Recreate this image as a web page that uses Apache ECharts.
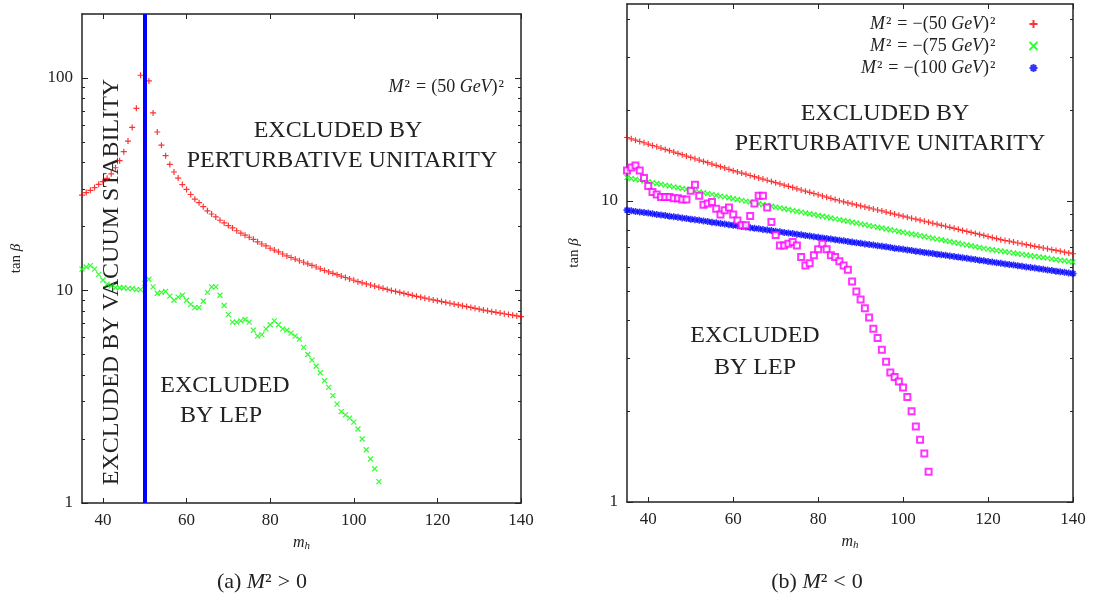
<!DOCTYPE html>
<html>
<head>
<meta charset="utf-8">
<script src="https://cdn.jsdelivr.net/npm/echarts@6/dist/echarts.min.js"></script>
<style>html,body{margin:0;padding:0;background:#fff}#c{width:1105px;height:600px}</style>
</head>
<body>
<div id="c"></div>
<script>
// ---------- data ----------
const mh = [35,36,37,38,39,40,41,42,43,44,45,46,47,48,49,50,51,52,53,54,55,56,57,58,59,60,61,62,63,64,
  65,66,67,68,69,70,71,72,73,74,75,76,77,78,79,80,81,82,83,84,85,86,87,88,89,90,91,92,93,94,
  95,96,97,98,99,100,101,102,103,104,105,106,107,108,109,110,111,112,113,114,115,116,117,118,119,120,
  121,122,123,124,125,126,127,128,129,130,131,132,133,134,135,136,137,138,139,140];

// (a) perturbative unitarity bound, M^2 = (50 GeV)^2
const unitarityPos50 = [28.1,28.9,29.6,30.5,31.6,32.5,33.7,35.4,37.8,40.8,
  45.0,50.5,58.5,72.0,103,null,96.8,68.5,55.7,48.3,
  43.1,39.2,36.1,33.8,31.5,29.9,28.3,26.9,25.9,24.8,
  23.7,22.9,22.2,21.4,20.8,20.2,19.7,19.1,18.6,18.2,
  17.8,17.4,16.95,16.55,16.2,15.8,15.5,15.2,14.85,14.55,
  14.3,14.05,13.8,13.58,13.35,13.12,12.9,12.65,12.42,12.23,
  12.05,11.87,11.69,11.51,11.34,11.17,11.0,10.87,10.74,10.61,
  10.49,10.36,10.24,10.12,10.0,9.90,9.79,9.69,9.59,9.49,
  9.39,9.30,9.20,9.12,9.03,8.95,8.87,8.79,8.71,8.63,
  8.55,8.47,8.40,8.32,8.24,8.17,8.09,8.02,7.95,7.89,
  7.83,7.77,7.71,7.65,7.59,7.53];

// LEP exclusion boundary (m_h = 35 ... 106)
const lepBound = [12.6,12.9,13.1,12.6,11.9,11.2,10.7,10.5,10.3,10.3,
  10.3,10.2,10.2,10.1,10.1,10.8,11.3,10.4,9.7,9.8,
  9.9,9.4,9.0,9.3,9.5,9.0,8.6,8.3,8.3,8.9,
  9.8,10.4,10.4,9.5,8.5,7.7,7.1,7.1,7.2,7.3,
  7.1,6.5,6.1,6.2,6.6,6.9,7.2,6.9,6.6,6.5,
  6.3,6.1,5.9,5.4,5.0,4.7,4.4,4.1,3.76,3.5,
  3.2,2.92,2.69,2.60,2.51,2.40,2.23,2.00,1.78,1.61,
  1.45,1.26];

// vacuum stability bound position in (a)
const vacuumBound = 50;

// (b) perturbative unitarity bounds, M^2 < 0
const unitarityNeg50 = [16.22,16.06,15.89,15.73,15.58,15.42,15.26,15.11,14.96,14.81,
  14.66,14.51,14.36,14.22,14.07,13.93,13.79,13.65,13.51,13.38,
  13.24,13.11,12.98,12.85,12.72,12.59,12.47,12.36,12.25,12.13,
  12.02,11.91,11.80,11.70,11.59,11.48,11.38,11.27,11.17,11.07,
  10.96,10.86,10.76,10.67,10.57,10.47,10.38,10.28,10.19,10.09,
  10.00,9.92,9.84,9.77,9.69,9.62,9.54,9.47,9.39,9.32,
  9.25,9.17,9.10,9.03,8.96,8.89,8.82,8.75,8.69,8.62,
  8.55,8.49,8.42,8.36,8.29,8.23,8.16,8.10,8.04,7.97,
  7.91,7.85,7.79,7.73,7.67,7.61,7.55,7.49,7.43,7.38,
  7.34,7.29,7.24,7.20,7.15,7.11,7.06,7.02,6.97,6.93,
  6.88,6.84,6.80,6.75,6.71,6.67];
const unitarityNeg75 = [11.94,11.86,11.79,11.71,11.64,11.56,11.49,11.41,11.34,11.27,
  11.20,11.12,11.05,10.98,10.91,10.84,10.77,10.70,10.63,10.56,
  10.50,10.43,10.36,10.30,10.23,10.16,10.10,10.03,9.97,9.91,
  9.84,9.78,9.72,9.66,9.59,9.53,9.47,9.41,9.35,9.29,
  9.23,9.17,9.11,9.06,9.00,8.94,8.88,8.83,8.77,8.71,
  8.66,8.60,8.55,8.49,8.44,8.38,8.33,8.27,8.22,8.17,
  8.12,8.06,8.01,7.96,7.91,7.86,7.81,7.76,7.71,7.66,
  7.61,7.56,7.51,7.46,7.42,7.37,7.32,7.27,7.23,7.18,
  7.13,7.09,7.04,7.00,6.95,6.91,6.88,6.84,6.81,6.77,
  6.74,6.71,6.67,6.64,6.61,6.57,6.54,6.51,6.48,6.45,
  6.41,6.38,6.35,6.32,6.29,6.26];
const unitarityNeg100 = [9.31,9.27,9.22,9.18,9.14,9.10,9.05,9.01,8.97,8.93,
  8.89,8.85,8.81,8.77,8.73,8.69,8.65,8.61,8.57,8.53,
  8.49,8.45,8.41,8.37,8.33,8.30,8.26,8.22,8.18,8.14,
  8.11,8.07,8.03,8.00,7.96,7.92,7.89,7.85,7.81,7.78,
  7.74,7.71,7.67,7.64,7.60,7.57,7.53,7.50,7.46,7.43,
  7.39,7.36,7.33,7.29,7.26,7.23,7.19,7.16,7.13,7.09,
  7.06,7.03,7.00,6.96,6.93,6.90,6.87,6.84,6.80,6.77,
  6.74,6.71,6.68,6.65,6.62,6.59,6.56,6.53,6.50,6.47,
  6.44,6.41,6.38,6.35,6.32,6.29,6.26,6.23,6.20,6.17,
  6.14,6.12,6.09,6.06,6.03,6.00,5.98,5.95,5.92,5.89,
  5.87,5.84,5.81,5.79,5.76,5.73];

// ticks
const xTicks = [40, 60, 80, 100, 120, 140];
const yMajorA = [1, 10, 100];
const yMinorA = [2,3,4,5,6,7,8,9,20,30,40,50,60,70,80,90];
const yMajorB = [1, 10];
const yMinorB = [2,3,4,5,6,7,8,9,20,30,40];
const legendNames = ['M2 = -(50 GeV)^2', 'M2 = -(75 GeV)^2', 'M2 = -(100 GeV)^2'];
const legendMass = ['50', '75', '100'];

// ---------- helpers ----------
const pair = (vals) => vals.map((v, i) => [mh[i], v]);
const FONT = "'Liberation Serif', 'DejaVu Serif', serif";
const INK = '#222';
const PLUS = 'path://M0,5L10,5M5,0L5,10';
const CROSS = 'path://M0,0L10,10M10,0L0,10';
const STAR = 'path://M0,5L10,5M5,0L5,10M1.5,1.5L8.5,8.5M8.5,1.5L1.5,8.5';

function xAx(grid, pos, labels, name) {
  return {
    type: 'value', gridIndex: grid, position: pos, min: 35, max: 140,
    axisLine: { show: true, onZero: false, lineStyle: { color: INK, width: 1.5 } },
    axisTick: { show: true, inside: true, length: 5, customValues: xTicks, lineStyle: { color: INK, width: 1 } },
    axisLabel: { show: labels, customValues: xTicks, margin: 9, fontFamily: FONT, fontSize: 17, color: INK },
    splitLine: { show: false },
    name: name ? '{m|m}{h|h}' : '',
    nameLocation: 'middle', nameGap: 30,
    nameTextStyle: { rich: {
      m: { fontFamily: FONT, fontStyle: 'italic', fontSize: 16, color: INK },
      h: { fontFamily: FONT, fontStyle: 'italic', fontSize: 11, color: INK, padding: [8, 0, 0, 0] }
    } }
  };
}
function yAx(grid, pos, max, ticks, len, line, labels, name, gap) {
  return {
    type: 'log', logBase: 10, gridIndex: grid, position: pos, min: 1, max: max,
    axisLine: { show: line, onZero: false, lineStyle: { color: INK, width: 1.5 } },
    axisTick: { show: true, inside: true, length: len, customValues: ticks, lineStyle: { color: INK, width: 1 } },
    axisLabel: { show: labels, customValues: ticks, margin: 9, fontFamily: FONT, fontSize: 17, color: INK },
    splitLine: { show: false }, minorTick: { show: false },
    name: name ? '{n|tan }{b|β}' : '',
    nameLocation: 'middle', nameRotate: 90, nameGap: gap || 0,
    nameTextStyle: { rich: {
      n: { fontFamily: FONT, fontSize: 15, color: INK },
      b: { fontFamily: FONT, fontStyle: 'italic', fontSize: 15, color: INK }
    } }
  };
}
const richLab = {
  n: { fontFamily: FONT, fontSize: 18, color: INK },
  i: { fontFamily: FONT, fontSize: 18, fontStyle: 'italic', color: INK },
  s: { fontFamily: FONT, fontSize: 18, color: INK, padding: [0, 1, 0, 1] },
  q: { fontFamily: FONT, fontSize: 18, color: INK, padding: [0, 5, 0, 5] }
};
const richCap = {
  n: { fontFamily: FONT, fontSize: 22, color: INK },
  i: { fontFamily: FONT, fontSize: 22, fontStyle: 'italic', color: INK },
  q: { fontFamily: FONT, fontSize: 22, color: INK, padding: [0, 6, 0, 6] }
};

const option = {
  animation: false,
  backgroundColor: '#fff',
  grid: [
    { left: 82, top: 14, width: 439, height: 489 },
    { left: 627, top: 4, width: 446, height: 498 }
  ],
  xAxis: [
    xAx(0, 'bottom', true, true), xAx(0, 'top', false, false),
    xAx(1, 'bottom', true, true), xAx(1, 'top', false, false)
  ],
  yAxis: [
    yAx(0, 'left', 200, yMajorA, 6, true, true, true, 58),
    yAx(0, 'left', 200, yMinorA, 3, false, false, false),
    yAx(0, 'right', 200, yMajorA, 6, true, false, false),
    yAx(0, 'right', 200, yMinorA, 3, false, false, false),
    yAx(1, 'left', 45, yMajorB, 6, true, true, true, 45),
    yAx(1, 'left', 45, yMinorB, 3, false, false, false),
    yAx(1, 'right', 45, yMajorB, 6, true, false, false),
    yAx(1, 'right', 45, yMinorB, 3, false, false, false)
  ],
  legend: {
    orient: 'vertical', right: 60, top: 10, align: 'right',
    itemWidth: 8, itemHeight: 8, itemGap: 4,
    data: legendNames,
    formatter: function (name) {
      const k = legendNames.indexOf(name);
      return '{i|M}{s|²}{q|=}{n|−(' + legendMass[k] + ' }{i|GeV}{n|)}{s|²}{sp| }';
    },
    textStyle: { fontFamily: FONT, fontSize: 18, color: INK,
      rich: Object.assign({ sp: { width: 28 } }, richLab) }
  },
  series: [
    { type: 'scatter', name: 'unitarity (a)', xAxisIndex: 0, yAxisIndex: 0,
      symbol: PLUS, symbolSize: 6, data: pair(unitarityPos50),
      itemStyle: { color: 'none', borderColor: '#ff0000', borderWidth: 1.2 } },
    { type: 'scatter', name: 'LEP (a)', xAxisIndex: 0, yAxisIndex: 0,
      symbol: CROSS, symbolSize: 5, data: pair(lepBound),
      itemStyle: { color: 'none', borderColor: '#00ff00', borderWidth: 1.2 } },
    { type: 'scatter', name: 'vacuum', xAxisIndex: 0, yAxisIndex: 0, data: [],
      markLine: { silent: true, symbol: 'none', label: { show: false },
        lineStyle: { color: '#0000ff', width: 4, type: 'solid' },
        data: [{ xAxis: vacuumBound }] } },
    { type: 'scatter', name: legendNames[0], xAxisIndex: 2, yAxisIndex: 4,
      symbol: PLUS, symbolSize: 6, data: pair(unitarityNeg50),
      itemStyle: { color: 'none', borderColor: '#ff0000', borderWidth: 1.2 } },
    { type: 'scatter', name: legendNames[1], xAxisIndex: 2, yAxisIndex: 4,
      symbol: CROSS, symbolSize: 5, data: pair(unitarityNeg75),
      itemStyle: { color: 'none', borderColor: '#00ff00', borderWidth: 1.3 } },
    { type: 'scatter', name: legendNames[2], xAxisIndex: 2, yAxisIndex: 4,
      symbol: STAR, symbolSize: 7, data: pair(unitarityNeg100),
      itemStyle: { color: 'none', borderColor: '#0000ff', borderWidth: 1.6 } },
    { type: 'scatter', name: 'LEP (b)', xAxisIndex: 2, yAxisIndex: 4,
      symbol: 'emptyRect', symbolSize: 6, data: pair(lepBound),
      itemStyle: { color: '#ff00ff', borderColor: '#ff00ff', borderWidth: 1.2 } }
  ],
  graphic: [
    { type: 'text', x: 112, y: 282, rotation: Math.PI / 2,
      style: { text: 'EXCLUDED BY VACUUM STABILITY', font: '24px ' + FONT, fill: INK, align: 'center', verticalAlign: 'middle' } },
    { type: 'text', x: 338, y: 131,
      style: { text: 'EXCLUDED BY', font: '24px ' + FONT, fill: INK, align: 'center', verticalAlign: 'middle' } },
    { type: 'text', x: 342, y: 161,
      style: { text: 'PERTURBATIVE UNITARITY', font: '24px ' + FONT, fill: INK, align: 'center', verticalAlign: 'middle' } },
    { type: 'text', x: 505, y: 87,
      style: { text: '{i|M}{s|²}{q|=}{n|(50 }{i|GeV}{n|)}{s|²}', rich: richLab, fill: INK, align: 'right', verticalAlign: 'middle' } },
    { type: 'text', x: 225, y: 386,
      style: { text: 'EXCLUDED', font: '24px ' + FONT, fill: INK, align: 'center', verticalAlign: 'middle' } },
    { type: 'text', x: 221, y: 416,
      style: { text: 'BY LEP', font: '24px ' + FONT, fill: INK, align: 'center', verticalAlign: 'middle' } },
    { type: 'text', x: 885, y: 114,
      style: { text: 'EXCLUDED BY', font: '24px ' + FONT, fill: INK, align: 'center', verticalAlign: 'middle' } },
    { type: 'text', x: 890, y: 144,
      style: { text: 'PERTURBATIVE UNITARITY', font: '24px ' + FONT, fill: INK, align: 'center', verticalAlign: 'middle' } },
    { type: 'text', x: 755, y: 336,
      style: { text: 'EXCLUDED', font: '24px ' + FONT, fill: INK, align: 'center', verticalAlign: 'middle' } },
    { type: 'text', x: 755, y: 368,
      style: { text: 'BY LEP', font: '24px ' + FONT, fill: INK, align: 'center', verticalAlign: 'middle' } },
    { type: 'text', x: 262, y: 582,
      style: { text: '{n|(a) }{i|M}{n|²}{q|>}{n|0}', fill: INK, align: 'center', verticalAlign: 'middle', rich: richCap } },
    { type: 'text', x: 817, y: 582,
      style: { text: '{n|(b) }{i|M}{n|²}{q|<}{n|0}', fill: INK, align: 'center', verticalAlign: 'middle', rich: richCap } }
  ]
};

const chart = echarts.init(document.getElementById('c'), null, { renderer: 'canvas' });
chart.setOption(option);
</script>
</body>
</html>
